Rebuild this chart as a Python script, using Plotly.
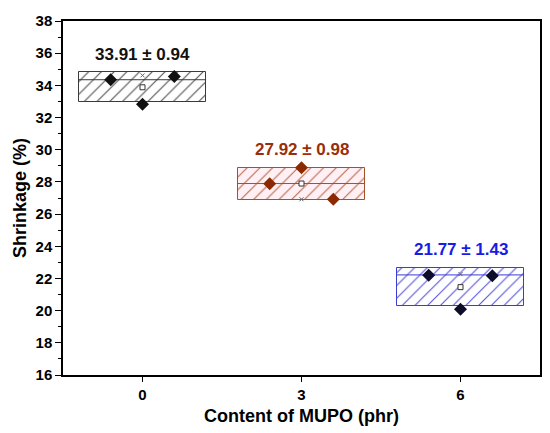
import plotly.graph_objects as go

# Data
categories = [0, 3, 6]
points_left = [34.35, 27.88, 22.20]
points_mid = [32.83, 28.88, 20.08]
points_right = [34.55, 26.92, 22.17]
box_low = [32.95, 26.90, 20.30]
box_high = [34.82, 28.88, 22.68]
medians = [34.35, 27.90, 22.22]
means = [33.88, 27.90, 21.46]
mins = [32.83, 26.92, 20.08]
maxs = [34.62, 28.88, 22.27]
labels = ["33.91 \u00b1 0.94", "27.92 \u00b1 0.98", "21.77 \u00b1 1.43"]

box_line_colors = ["#3a3a3a", "#a0522d", "#3b3bd6"]
box_hatch_colors = ["#444444", "#b5603a", "#4a4ad8"]
box_bg_colors = ["white", "#fff0f6", "white"]
point_colors = ["#111111", "#8b2a00", "#0d0d2a"]
label_colors = ["#111111", "#9a2e0a", "#1a1ae6"]

box_width = 2.4
point_offset = 0.6
FONT = "Liberation Sans, Arial, sans-serif"

fig = go.Figure()

# Boxes (mean ± SD) as hatched bars
for i, c in enumerate(categories):
    fig.add_trace(go.Bar(
        x=[c], y=[box_high[i] - box_low[i]], base=[box_low[i]],
        width=box_width,
        marker=dict(
            color=box_bg_colors[i],
            line=dict(color=box_line_colors[i], width=1),
            pattern=dict(shape="/", fgcolor=box_hatch_colors[i], bgcolor=box_bg_colors[i],
                         size=9, solidity=0.11, fillmode="replace"),
        ),
        showlegend=False, hoverinfo="skip",
    ))
    # median line
    fig.add_trace(go.Scatter(
        x=[c - box_width / 2, c + box_width / 2], y=[medians[i], medians[i]],
        mode="lines", line=dict(color=box_line_colors[i], width=1),
        showlegend=False, hoverinfo="skip",
    ))

# min / max markers
fig.add_trace(go.Scatter(
    x=categories + categories, y=mins + maxs, mode="markers",
    marker=dict(symbol="x-thin", size=4, line=dict(color="#666666", width=1)),
    showlegend=False, hoverinfo="skip",
))

# mean markers
fig.add_trace(go.Scatter(
    x=categories, y=means, mode="markers",
    marker=dict(symbol="square", size=5, color="white", line=dict(color="#333333", width=1)),
    showlegend=False, hoverinfo="skip",
))

# data points (diamonds)
px = []
py = []
pc = []
for i, c in enumerate(categories):
    px += [c - point_offset, c, c + point_offset]
    py += [points_left[i], points_mid[i], points_right[i]]
    pc += [point_colors[i]] * 3
fig.add_trace(go.Scatter(
    x=px, y=py, mode="markers",
    marker=dict(symbol="diamond", size=10, color=pc),
    showlegend=False, hoverinfo="skip",
))

for i, c in enumerate(categories):
    fig.add_annotation(
        x=c, y=box_high[i] + 0.4, text="<b>" + labels[i] + "</b>",
        showarrow=False, yanchor="bottom",
        font=dict(family=FONT, size=17, color=label_colors[i]),
    )

# axis titles
fig.add_annotation(
    xref="paper", yref="paper", x=0, y=0.5, xshift=-43, textangle=-90,
    xanchor="center", yanchor="middle", showarrow=False,
    text="<b>Shrinkage (%)</b>", font=dict(family=FONT, size=18, color="black"),
)
fig.add_annotation(
    xref="paper", yref="paper", x=0.5, y=0, yshift=-41,
    xanchor="center", yanchor="middle", showarrow=False,
    text="<b>Content of MUPO (phr)</b>", font=dict(family=FONT, size=18, color="black"),
)

fig.update_layout(
    width=542, height=425,
    margin=dict(l=55, r=10, t=13, b=58),
    paper_bgcolor="white", plot_bgcolor="white",
    font=dict(family=FONT, color="black"),
    bargap=0,
)
fig.update_xaxes(
    range=[-1.5, 7.5], tickvals=categories, ticktext=[f"<b>{c}</b>" for c in categories],
    ticks="outside", ticklen=5, tickwidth=1, tickcolor="black",
    showline=True, linecolor="black", linewidth=1.5, mirror=True,
    showgrid=False, zeroline=False, automargin=False,
    tickfont=dict(family=FONT, size=15),
)
fig.update_yaxes(
    range=[16, 38], tickvals=list(range(16, 39, 2)),
    ticktext=[f"<b>{v}</b>" for v in range(16, 39, 2)],
    ticks="outside", ticklen=6, tickwidth=1, tickcolor="black",
    minor=dict(dtick=1, ticks="outside", ticklen=3, tickwidth=1, tickcolor="black", showgrid=False),
    showline=True, linecolor="black", linewidth=1.5, mirror=True,
    showgrid=False, zeroline=False, automargin=False,
    tickfont=dict(family=FONT, size=15),
)

fig.write_html("out.html")
